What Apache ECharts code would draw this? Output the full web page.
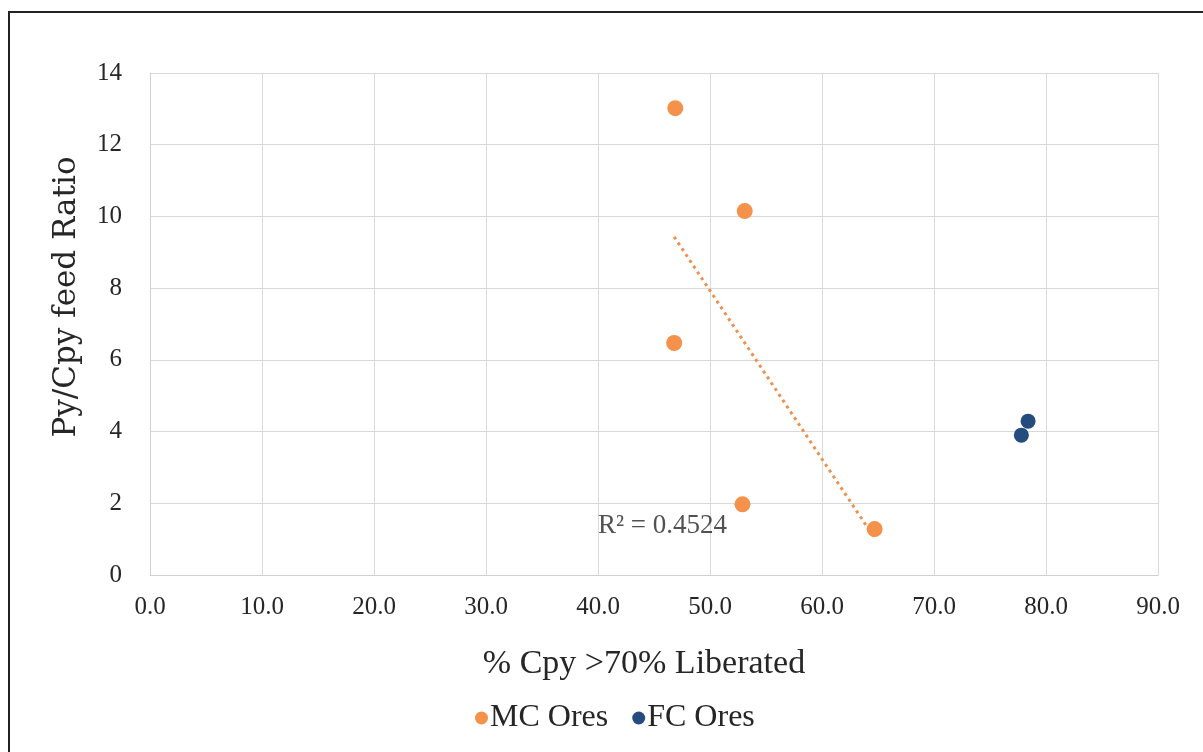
<!DOCTYPE html>
<html>
<head>
<meta charset="utf-8">
<script src="https://cdn.jsdelivr.net/npm/echarts@6/dist/echarts.min.js"></script>
<style>
html,body{margin:0;padding:0;background:#fff;}
#frame{position:absolute;left:8px;top:11px;right:0;bottom:0;border-left:2px solid #222;border-top:2px solid #222;}
#chart{position:absolute;left:0;top:0;width:1203px;height:752px;}
</style>
</head>
<body>
<div id="frame"></div>
<div id="chart"></div>
<script>
// Data
const mcX = [46.9, 53.1, 46.8, 52.9, 64.7];
const mcY = [13.02, 10.15, 6.47, 1.97, 1.28];
const fcX = [78.4, 77.8];
const fcY = [4.29, 3.90];
const seriesNames = ['MC Ores', 'FC Ores'];
const r2Text = 'R² = 0.4524';
const r2LabelPos = [40.0, 1.38];
const xTicks = { min: 0, max: 90, interval: 10 };
const yTicks = { min: 0, max: 14, interval: 2 };

// Linear trendline (least squares) for MC Ores
const n = mcX.length;
const mx = mcX.reduce((a, b) => a + b, 0) / n;
const my = mcY.reduce((a, b) => a + b, 0) / n;
let sxy = 0, sxx = 0;
for (let i = 0; i < n; i++) { sxy += (mcX[i] - mx) * (mcY[i] - my); sxx += (mcX[i] - mx) ** 2; }
const slope = sxy / sxx, icpt = my - slope * mx;
const xmin = Math.min(...mcX), xmax = Math.max(...mcX);
const trend = [[xmin, icpt + slope * xmin], [xmax, icpt + slope * xmax]];

const FONT = '"Liberation Serif", "DejaVu Serif", serif';
const TXT = '#262626';
const chart = echarts.init(document.getElementById('chart'));
chart.setOption({
  animation: false,
  textStyle: { fontFamily: FONT },
  grid: { left: 150, right: 45, top: 73, bottom: 177 },
  xAxis: {
    type: 'value', min: xTicks.min, max: xTicks.max, interval: xTicks.interval,
    name: '% Cpy >70% Liberated', nameLocation: 'middle', nameGap: 72,
    nameTextStyle: { fontSize: 34, color: TXT, fontFamily: FONT, padding: [0, 20, 0, 0] },
    axisLine: { show: true, lineStyle: { color: '#d0d0d0', width: 1 } },
    axisTick: { show: false },
    splitLine: { show: true, lineStyle: { color: '#d9d9d9', width: 1 } },
    axisLabel: { fontSize: 25, color: TXT, margin: 20, formatter: v => v.toFixed(1), fontFamily: FONT }
  },
  yAxis: {
    type: 'value', min: yTicks.min, max: yTicks.max, interval: yTicks.interval,
    name: 'Py/Cpy feed Ratio', nameLocation: 'middle', nameGap: 68,
    nameTextStyle: { fontSize: 31, color: TXT, fontFamily: '"DejaVu Serif", serif', padding: [0, 0, 0, 54] },
    axisLine: { show: true, lineStyle: { color: '#d0d0d0', width: 1 } },
    axisTick: { show: false },
    splitLine: { show: true, lineStyle: { color: '#d9d9d9', width: 1 } },
    axisLabel: { fontSize: 25, color: TXT, margin: 28, fontFamily: FONT }
  },
  legend: {
    bottom: 13, left: 470, itemGap: 24, itemWidth: 13, itemHeight: 13,
    icon: 'circle',
    textStyle: { fontSize: 32, color: TXT, fontFamily: FONT, padding: [0, 0, 0, -3] },
    data: seriesNames
  },
  series: [
    {
      name: 'MC Ores', type: 'scatter', symbolSize: 16,
      itemStyle: { color: '#F4914A', opacity: 1 },
      data: mcX.map((x, i) => [x, mcY[i]]), z: 3
    },
    {
      name: 'FC Ores', type: 'scatter', symbolSize: 15,
      itemStyle: { color: '#264B7E', opacity: 1 },
      data: fcX.map((x, i) => [x, fcY[i]]), z: 3
    },
    {
      name: 'trend', type: 'line', data: trend, symbol: 'none', silent: true,
      lineStyle: { color: '#EE9050', width: 3, type: [3, 4] }, z: 2
    },
    {
      name: 'r2', type: 'scatter', data: [r2LabelPos], symbolSize: 0, silent: true,
      label: { show: true, position: 'right', distance: 0, formatter: r2Text, fontSize: 27, color: TXT, fontFamily: FONT }
    }
  ]
});
</script>
</body>
</html>
